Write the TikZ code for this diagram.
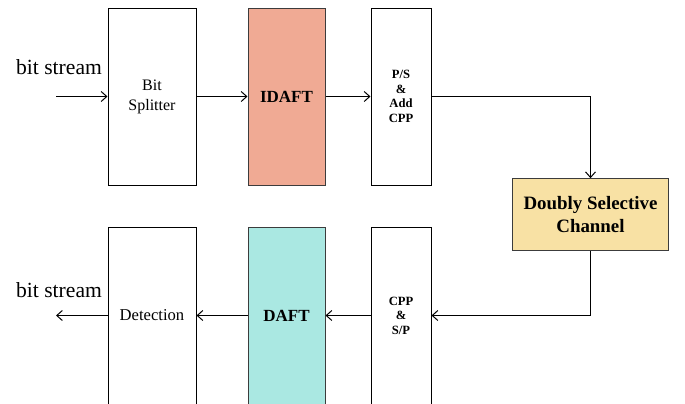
\documentclass[tikz,border=0pt]{standalone}
\usepackage{fontspec}
\setmainfont{Liberation Serif}
\usetikzlibrary{arrows.meta}
\definecolor{idaftred}{RGB}{240,170,148}
\definecolor{daftcyan}{RGB}{170,232,226}
\definecolor{chanyellow}{RGB}{248,225,164}
\definecolor{frame}{RGB}{60,60,60}
\begin{document}
\begin{tikzpicture}
[
x=0.5pt, y=-0.5pt,
line width=0.5pt,
arr/.style={-{Straight Barb[length=2.8pt,width=5pt]}},
blk/.style={draw,rectangle,align=center,inner sep=1pt},
tall/.style={blk,minimum height=88.5pt},
big/.style={font=\fontsize{8.5}{10}\selectfont\bfseries},
small/.style={font=\fontsize{6.3}{7.3}\selectfont\bfseries},
plain/.style={font=\fontsize{8}{10}\selectfont}
]
\useasboundingbox (0,0) rectangle (685,403);
% sender row
\node[tall,plain,minimum width=44pt] (split) at (152,96.5) {Bit\\Splitter};
\node[tall,big,draw=frame,fill=idaftred,minimum width=38.5pt] (idaft) at (286.5,96.5) {IDAFT};
\node[tall,small,minimum width=30pt] (ps) at (401,96.5) {P/S\\\&\\Add\\CPP};
% channel
\node[blk,draw=frame,fill=chanyellow,minimum width=77.8pt,minimum height=36pt,
  font=\fontsize{9.45}{11.5}\selectfont\bfseries] (chan) at (590.5,214.7) {Doubly Selective\\Channel};
% receiver row
\node[tall,plain,font=\fontsize{8.3}{10}\selectfont,minimum width=44pt] (detect) at (152,315.5) {Detection};
\node[tall,big,draw=frame,fill=daftcyan,minimum width=38.5pt] (daft) at (286.5,315.5) {DAFT};
\node[tall,small,minimum width=30pt] (cpp) at (401,315.5) {CPP\\\&\\S/P};
% bit streams
\node[font=\fontsize{10.8}{12}\selectfont] (lblin) at (59,67) {bit stream};
\node[font=\fontsize{10.8}{12}\selectfont] (lblout) at (59,290) {bit stream};
\coordinate (in) at (56,96.5);
\coordinate (out) at (56,315.5);
\draw[arr] (in) -- (split);
\draw[arr] (split) -- (idaft);
\draw[arr] (idaft) -- (ps);
\draw[arr] (ps.east) -| (chan.north);
\draw[arr] (chan.south) |- (cpp.east);
\draw[arr] (cpp) -- (daft);
\draw[arr] (daft) -- (detect);
\draw[arr] (detect) -- (out);
\end{tikzpicture}
\end{document}
